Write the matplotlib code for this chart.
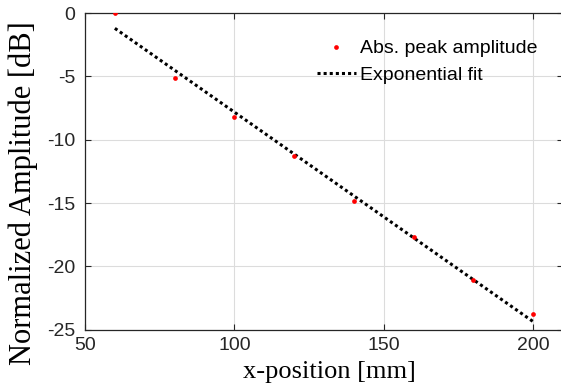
import matplotlib
matplotlib.use("Agg")
import matplotlib.pyplot as plt

x_pos = [60, 80, 100, 120, 140, 160, 180, 200]
amp_db = [0.0, -5.13, -8.24, -11.25, -14.84, -17.7, -21.07, -23.8]
fit_x = [60, 200]
fit_y = [-1.21, -24.36]
xticks = [50, 100, 150, 200]
yticks = [0, -5, -10, -15, -20, -25]

plt.rcParams['font.family'] = ['Liberation Sans', 'DejaVu Sans']
fig = plt.figure(figsize=(5.61, 3.91), dpi=100)
W, H = 561, 391
ax = fig.add_axes([85 / W, 1 - 329.7 / H, (563 - 85) / W, (329.7 - 13) / H])

ax.plot(x_pos, amp_db, 'o', color='red', markersize=3.4, markeredgewidth=0,
        label='Abs. peak amplitude', zorder=3)
ax.plot(fit_x, fit_y, color='black', linestyle=(0, (1, 1)), linewidth=2.2,
        label='Exponential fit', zorder=2)

ax.set_xlim(50, 210)
ax.set_ylim(-25, 0)
ax.set_xticks(xticks)
ax.set_yticks(yticks)
ax.set_xticklabels([str(v) for v in xticks])
ax.set_yticklabels([str(v) for v in yticks])
ax.tick_params(direction='in', top=True, right=True, labelsize=14,
               length=4, width=0.8, color='#262626', labelcolor='#262626')
ax.tick_params(axis='x', pad=5)
ax.tick_params(axis='y', pad=7)
ax.grid(True, color='#dcdcdc', linewidth=0.8)
ax.set_axisbelow(True)
for s in ax.spines.values():
    s.set_color('#262626')
    s.set_linewidth(0.9)

ax.set_xlabel('x-position [mm]', family='Liberation Serif', fontsize=19)
ax.set_ylabel('Normalized Amplitude [dB]', family='Liberation Serif', fontsize=22)
ax.xaxis.set_label_coords(329 / W, 1 - 361 / H, transform=fig.transFigure)
ax.yaxis.set_label_coords(38 / W, 1 - 193 / H, transform=fig.transFigure)

leg = ax.legend(loc='upper right', bbox_to_anchor=(545 / W, 1 - 32 / H),
                bbox_transform=fig.transFigure, frameon=False, fontsize=14,
                handlelength=2.0, handletextpad=0.2, labelspacing=0.45,
                borderaxespad=0)

fig.savefig('out.png', dpi=100)
